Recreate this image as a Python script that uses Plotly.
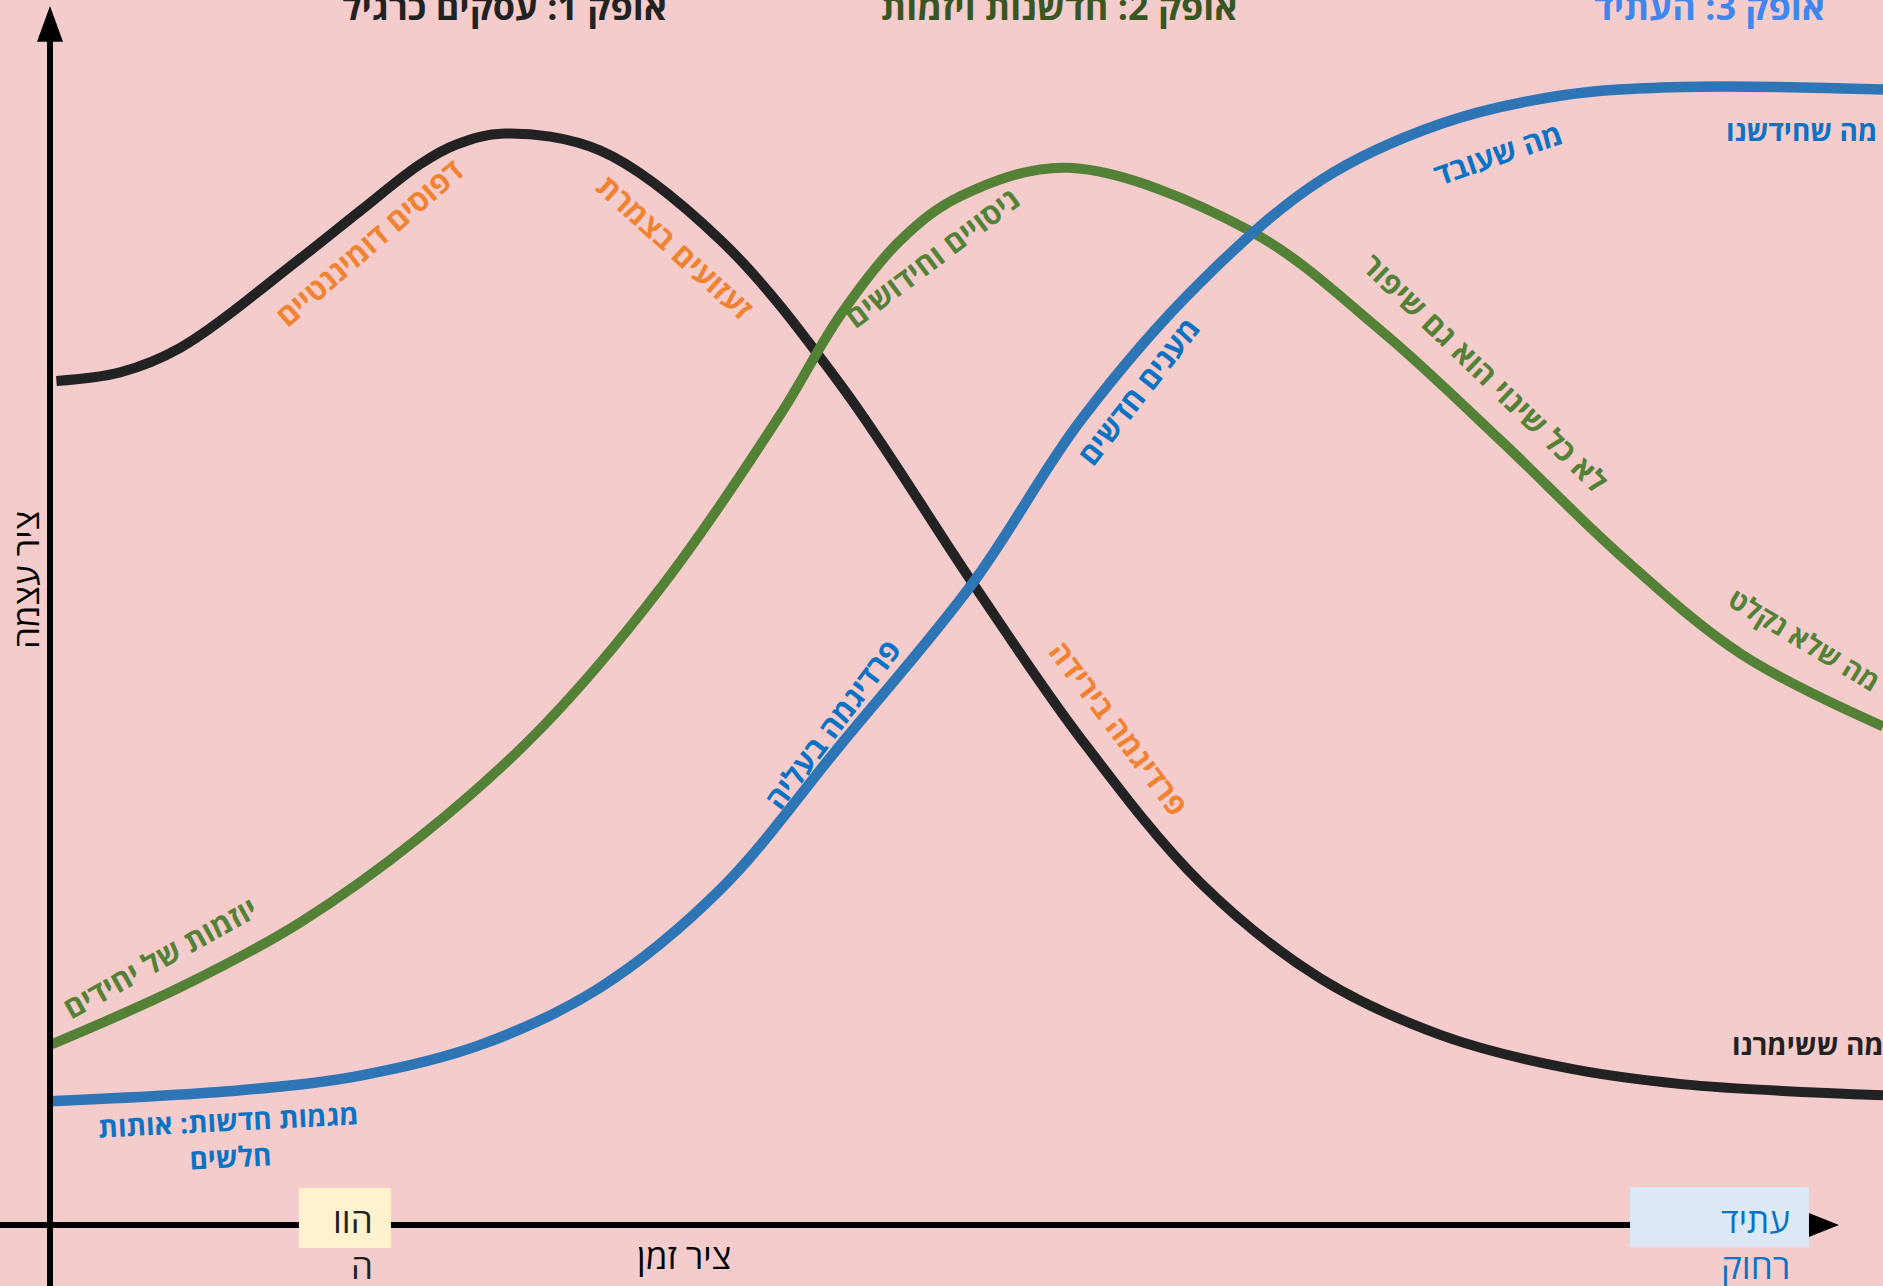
import plotly.graph_objects as go

# ---------------- data (time axis 0..100, power axis 0..100) ----------------
h1_time = [0.35, 3.82, 7.1, 13.65, 16.93, 20.2, 22.17, 24.79, 30.03, 36.58, 43.13, 50.34,
           56.24, 62.79, 69.34, 75.89, 82.45, 89.0, 100.0]
h1_power = [68.9, 69.6, 71.6, 78.9, 82.8, 86.6, 88.2, 89.1, 87.7, 80.4, 68.6, 52.4,
            39.7, 27.9, 20.1, 15.5, 12.9, 11.5, 10.6]

h2_time = [0.02, 7.1, 13.65, 20.2, 26.76, 33.31, 39.86, 43.13, 46.41, 49.69, 55.58, 65.41,
           72.62, 79.17, 85.72, 92.27, 100.0]
h2_power = [14.7, 19.4, 24.7, 31.7, 40.5, 52.0, 66.2, 74.3, 80.4, 84.0, 86.3, 81.2,
            73.0, 64.0, 54.6, 46.6, 40.7]

h3_time = [0.0, 10.38, 16.93, 23.48, 30.03, 36.58, 43.13, 50.34, 56.24, 62.79, 69.34, 75.89,
           82.45, 89.0, 100.0]
h3_power = [10.1, 11.0, 12.2, 14.7, 19.4, 27.4, 39.2, 52.4, 65.7, 77.0, 85.3, 89.9,
            92.2, 92.9, 92.7]

horizon_titles = ["אופק 1: עסקים כרגיל", "אופק 2: חדשנות ויזמות", "אופק 3: העתיד"]
axis_titles = {"y": "ציר עצמה", "x": "ציר זמן"}
time_marks = {"now": ["הוו", "ה"], "future": ["עתיד", "רחוק"]}

curve_labels = [
    # text, t, p, angle, colour key, size
    ("דפוסים דומיננטיים", 17.4, 80.2, -41, "orange", 30),
    ("זעזועים בצמרת", 34.1, 79.9, 42, "orange", 30),
    ("ניסויים וחידושים", 48.1, 79.0, -37, "green", 30),
    ("לא כל שינוי הוא גם שיפור", 78.3, 69.6, 44, "green", 30),
    ("מה שעובד", 79.0, 87.5, -19, "blue", 30),
    ("מענים חדשים", 59.4, 68.1, -52, "blue", 30),
    ("פרדיגמה בעליה", 42.7, 40.9, -53, "blue", 30),
    ("פרדיגמה בירידה", 58.3, 40.6, 53, "orange", 30),
    ("מה שלא נקלט", 95.7, 47.8, 31, "green", 28),
    ("יוזמות של יחידים", 6.0, 21.8, -29, "green", 30),
]
weak_signals = "מגמות חדשות: אותות<br>חלשים"
right_labels = [("מה שחידשנו", 91.3, 89.4, "blue"), ("מה ששימרנו", 91.65, 14.8, "black")]

# ---------------- style ----------------
BG = "#F4CCCC"
C_BLACK = "#222222"
C_GREEN = "#538135"
C_BLUE = "#2E75B6"
LBL = {"orange": "#F08232", "green": "#538135", "blue": "#0B72C4", "black": C_BLACK}
FONT = "Open Sans, Noto Sans, DejaVu Sans, sans-serif"

fig = go.Figure()
for tx, py, col, w in [(h1_time, h1_power, C_BLACK, 10),
                       (h2_time, h2_power, C_GREEN, 10),
                       (h3_time, h3_power, C_BLUE, 10.5)]:
    fig.add_trace(go.Scatter(x=tx, y=py, mode="lines",
                             line=dict(color=col, width=w, shape="spline", smoothing=1.0),
                             hoverinfo="skip", showlegend=False))

X_RANGE = [-2.728, 100]
Y_RANGE = [-4.98, 100]

shapes = [
    # axes
    dict(type="line", x0=0, x1=0, y0=Y_RANGE[0], y1=97, line=dict(color="black", width=6)),
    dict(type="path", path="M -0.71,96.6 L 0.71,96.6 L 0,99.5 Z", fillcolor="black",
         line=dict(width=0)),
    dict(type="line", x0=X_RANGE[0], x1=96.2, y0=0, y1=0, line=dict(color="black", width=6)),
    dict(type="path", path="M 95.96,-0.98 L 95.96,0.98 L 97.6,0 Z", fillcolor="black",
         line=dict(width=0)),
    # boxes
    dict(type="rect", x0=13.58, x1=18.6, y0=-1.88, y1=3.02, fillcolor="#FFF2CC",
         line=dict(width=0)),
    dict(type="rect", x0=86.2, x1=95.96, y0=-1.8, y1=3.1, fillcolor="#DCE8F4",
         line=dict(width=0)),
]

ann = []
for txt, t, col in zip(horizon_titles, [24.77, 55.1, 90.56], [C_BLACK, "#375623", "#3F87EC"]):
    ann.append(dict(x=t, y=99.45, text=f"<b>{txt}</b>", showarrow=False,
                    font=dict(size=36, color=col, family=FONT), xanchor="center",
                    yanchor="middle"))

for txt, t, p, ang, ck, sz in curve_labels:
    ann.append(dict(x=t, y=p, text=f"<b>{txt}</b>", showarrow=False,
                    textangle=ang, font=dict(size=sz, color=LBL[ck], family=FONT),
                    xanchor="center", yanchor="middle", align="center"))

ann.append(dict(x=9.8, y=7.1, text=f"<b>{weak_signals}</b>", showarrow=False, textangle=-3,
                font=dict(size=28, color=LBL["blue"], family=FONT), align="center"))

for txt, t, p, ck in right_labels:
    ann.append(dict(x=t, y=p, text=f"<b>{txt}</b>", showarrow=False, xanchor="left",
                    font=dict(size=28, color=LBL[ck], family=FONT)))

ann.append(dict(x=-1.36, y=52.65, text=axis_titles["y"], showarrow=False, textangle=-90,
                font=dict(size=35, color="black", family=FONT)))
ann.append(dict(x=34.6, y=-2.53, text=axis_titles["x"], showarrow=False,
                font=dict(size=35, color="black", family=FONT)))

for (l1, l2), t, col in [(time_marks["now"], 17.73, "#222222"),
                         (time_marks["future"], 95.04, "#0B72C4")]:
    ann.append(dict(x=t, y=0.41, text=l1, showarrow=False, xanchor="right",
                    font=dict(size=35, color=col, family=FONT)))
    ann.append(dict(x=t, y=-3.27, text=l2, showarrow=False, xanchor="right",
                    font=dict(size=35, color=col, family=FONT)))

fig.update_layout(
    width=1883, height=1286,
    margin=dict(l=0, r=0, t=0, b=0),
    paper_bgcolor=BG, plot_bgcolor=BG,
    xaxis=dict(range=X_RANGE, visible=False, fixedrange=True),
    yaxis=dict(range=Y_RANGE, visible=False, fixedrange=True),
    shapes=shapes, annotations=ann,
)

fig.write_html("out.html", config={"displayModeBar": False},
               post_script="document.body.style.margin='0';document.body.style.overflow='hidden';")
